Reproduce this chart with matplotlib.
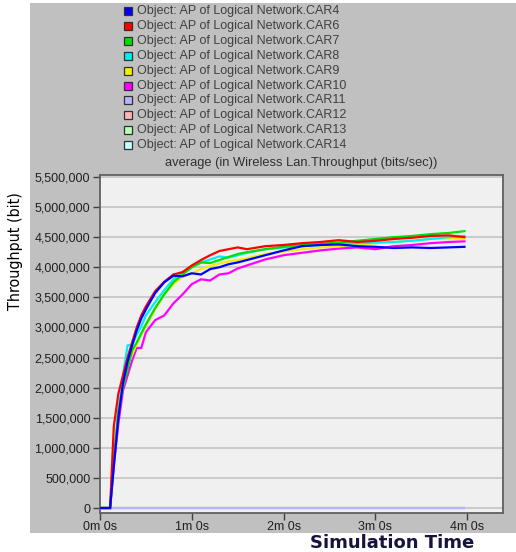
import matplotlib
matplotlib.use("Agg")
import matplotlib.pyplot as plt
from matplotlib.patches import Rectangle
from matplotlib.ticker import FuncFormatter

# Simulation time (minutes)
time_min = [0, 0.11, 0.15, 0.2, 0.25, 0.3, 0.35, 0.4, 0.45, 0.5, 0.6, 0.7, 0.8,
            0.9, 1.0, 1.1, 1.2, 1.3, 1.4, 1.5, 1.6, 1.8, 2.0, 2.2, 2.4, 2.6,
            2.8, 3.0, 3.2, 3.4, 3.6, 3.8, 3.97]

# Average throughput per car (millions of bits/sec)
car4 = [0, 0, 0.68, 1.50, 2.07, 2.43, 2.70, 2.95, 3.15, 3.30, 3.57, 3.75, 3.86,
        3.85, 3.90, 3.88, 3.97, 4.00, 4.05, 4.08, 4.12, 4.20, 4.28, 4.35, 4.37,
        4.38, 4.35, 4.34, 4.32, 4.33, 4.32, 4.33, 4.34]
car6 = [0, 0, 1.35, 1.90, 2.20, 2.50, 2.75, 3.00, 3.20, 3.35, 3.60, 3.76, 3.88,
        3.92, 4.03, 4.12, 4.20, 4.27, 4.30, 4.33, 4.30, 4.35, 4.37, 4.40, 4.42,
        4.45, 4.42, 4.44, 4.47, 4.49, 4.52, 4.53, 4.50]
car7 = [0, 0, 0.80, 1.60, 2.00, 2.30, 2.62, 2.75, 2.90, 3.05, 3.32, 3.55, 3.75,
        3.88, 4.00, 4.08, 4.07, 4.12, 4.17, 4.22, 4.25, 4.30, 4.34, 4.37, 4.39,
        4.41, 4.44, 4.47, 4.50, 4.52, 4.55, 4.57, 4.60]
car8 = [0, 0, 0.80, 1.60, 2.20, 2.70, 2.72, 2.88, 3.02, 3.20, 3.42, 3.62, 3.80,
        3.92, 4.00, 4.08, 4.13, 4.18, 4.16, 4.20, 4.24, 4.30, 4.33, 4.35, 4.37,
        4.38, 4.40, 4.41, 4.42, 4.44, 4.47, 4.50, 4.52]
car9 = [0, 0, 0.80, 1.60, 2.05, 2.35, 2.55, 2.72, 2.88, 3.02, 3.30, 3.55, 3.72,
        3.85, 3.90, 3.97, 4.02, 4.06, 4.10, 4.12, 4.15, 4.22, 4.26, 4.30, 4.33,
        4.35, 4.38, 4.40, 4.42, 4.44, 4.47, 4.48, 4.47]
car10 = [0, 0, 0.70, 1.40, 1.95, 2.20, 2.45, 2.66, 2.66, 2.92, 3.12, 3.20, 3.40,
         3.55, 3.72, 3.80, 3.78, 3.88, 3.90, 3.98, 4.03, 4.13, 4.20, 4.24, 4.28,
         4.31, 4.33, 4.30, 4.35, 4.37, 4.40, 4.42, 4.43]
car11 = [0] * len(time_min)
car12 = [0] * len(time_min)
car13 = [0] * len(time_min)
car14 = [0] * len(time_min)

series_names = ["CAR4", "CAR6", "CAR7", "CAR8", "CAR9", "CAR10",
                "CAR11", "CAR12", "CAR13", "CAR14"]
series_values = [car4, car6, car7, car8, car9, car10, car11, car12, car13, car14]
series_colors = ["#0000ff", "#ff0000", "#00e000", "#00f0f0", "#f0f000",
                 "#ff00ff", "#b4b4ff", "#ffb4b4", "#b4ffb4", "#c4ffff"]
legend_prefix = "Object: AP of Logical Network."

y_ticks = list(range(0, 5500001, 500000))
x_ticks = [0, 1, 2, 3, 4]
x_tick_labels = ["0m 0s", "1m 0s", "2m 0s", "3m 0s", "4m 0s"]

W, H = 516, 552
fig = plt.figure(figsize=(W / 100, H / 100), dpi=100)
fig.patch.set_facecolor("white")


def fx(px):
    return px / W


def fy(py):
    return 1 - py / H


# grey frame behind the chart
fig.patches.append(Rectangle((fx(30), fy(533)), fx(516) - fx(30), fy(3) - fy(533),
                             transform=fig.transFigure, facecolor="#c0c0c0",
                             edgecolor="none", zorder=-10))

# legend rows
row0, row_step = 11, 14.9
for i, (name, col) in enumerate(zip(series_names, series_colors)):
    cy = row0 + i * row_step
    fig.patches.append(Rectangle((fx(124), fy(cy + 4)), fx(8), fy(0) - fy(8),
                                 transform=fig.transFigure, facecolor=col,
                                 edgecolor="#303030", linewidth=0.9, zorder=2))
    fig.text(fx(137), fy(cy), legend_prefix + name, fontsize=9,
             family=["Liberation Sans", "DejaVu Sans"], color="#404040",
             va="center", ha="left")

ax = fig.add_axes([fx(100), fy(513), fx(503) - fx(100), fy(175) - fy(513)])
ax.set_zorder(1)
ax.set_facecolor("#f0f0f0")

# empty series first (CAR11 on top of them), then the active ones with CAR4 on top
draw_order = [9, 8, 7, 6, 5, 4, 3, 2, 1, 0]
for z, idx in enumerate(draw_order):
    vals = [v * 1e6 for v in series_values[idx]]
    ax.plot(time_min, vals, color=series_colors[idx], linewidth=1.6,
            zorder=3 + z, solid_joinstyle="miter")

ax.set_xlim(0, 4.39)
ax.set_ylim(-83000, 5533000)
ax.set_yticks(y_ticks)
ax.yaxis.set_major_formatter(FuncFormatter(lambda v, p: f"{int(v):,}"))
ax.set_xticks(x_ticks)
ax.set_xticklabels(x_tick_labels)
ax.grid(axis="y", color="#c8c8c8", linewidth=1.3)
ax.set_axisbelow(True)

for side in ["left", "bottom", "right", "top"]:
    ax.spines[side].set_color("#606060")
    ax.spines[side].set_linewidth(1.3)

ax.tick_params(axis="both", direction="out", length=5, width=1, color="#404040",
               labelsize=9, labelcolor="#202020", pad=2)
ax.tick_params(axis="x", pad=1)
for lab in ax.get_xticklabels() + ax.get_yticklabels():
    lab.set_family(["Liberation Sans", "DejaVu Sans"])

fig.text(fx(301), fy(163), "average (in Wireless Lan.Throughput (bits/sec))",
         fontsize=9.3, family=["Liberation Sans", "DejaVu Sans"], color="#303030",
         ha="center", va="center")

fig.text(fx(16), fy(251), "Throughput (bit)", rotation=90, fontsize=11.5,
         family="DejaVu Sans", fontstretch="condensed",
         color="black", ha="center", va="center")

fig.text(fx(392), fy(543), "Simulation Time", fontsize=13, fontweight="bold",
         family=["DejaVu Sans", "Liberation Sans"], color="#14143c",
         ha="center", va="center")

fig.savefig("out.png", dpi=100, facecolor="white")
